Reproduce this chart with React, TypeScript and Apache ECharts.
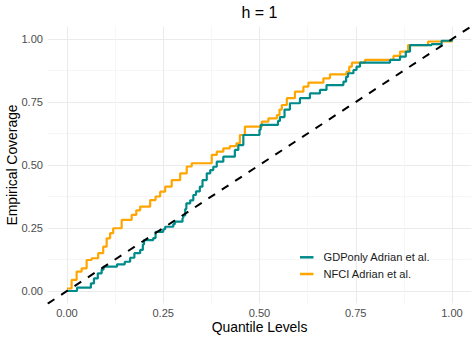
import React, { useEffect, useRef } from "react";
import * as echarts from "echarts";

const titleText = "h = 1";
const xTitle = "Quantile Levels";
const yTitle = "Empirical Coverage";
const majorTicks = [0, 0.25, 0.5, 0.75, 1];
const minorTicks = [0.125, 0.375, 0.625, 0.875];
const seriesNames = ["GDPonly Adrian et al.", "NFCI Adrian et al."];

const gdpX = [0, 0.026, 0.062, 0.07, 0.08, 0.09, 0.095, 0.13, 0.15, 0.164, 0.175, 0.19, 0.197, 0.2, 0.224, 0.23, 0.25, 0.255, 0.276, 0.28, 0.3, 0.302, 0.307, 0.31, 0.32, 0.328, 0.335, 0.345, 0.352, 0.363, 0.372, 0.38, 0.389, 0.406, 0.436, 0.445, 0.458, 0.5, 0.503, 0.548, 0.553, 0.565, 0.579, 0.605, 0.631, 0.657, 0.674, 0.718, 0.725, 0.73, 0.744, 0.752, 0.761, 0.839, 0.865, 0.88, 0.891, 0.947, 0.973, 1.0];
const gdpY = [0, 0.013, 0.03, 0.05, 0.07, 0.085, 0.097, 0.106, 0.116, 0.132, 0.15, 0.163, 0.185, 0.202, 0.21, 0.235, 0.245, 0.255, 0.265, 0.275, 0.29, 0.3, 0.325, 0.348, 0.36, 0.381, 0.395, 0.414, 0.44, 0.467, 0.48, 0.493, 0.513, 0.533, 0.56, 0.579, 0.619, 0.64, 0.659, 0.675, 0.69, 0.72, 0.745, 0.765, 0.784, 0.798, 0.817, 0.831, 0.85, 0.864, 0.877, 0.89, 0.906, 0.917, 0.93, 0.95, 0.976, 0.98, 0.993, 1.0];

const nfciX = [0, 0.012, 0.025, 0.038, 0.051, 0.064, 0.081, 0.094, 0.103, 0.112, 0.12, 0.142, 0.168, 0.18, 0.19, 0.216, 0.23, 0.242, 0.255, 0.272, 0.294, 0.311, 0.324, 0.376, 0.389, 0.406, 0.423, 0.44, 0.449, 0.462, 0.506, 0.523, 0.545, 0.552, 0.558, 0.571, 0.592, 0.614, 0.627, 0.666, 0.683, 0.726, 0.733, 0.74, 0.774, 0.848, 0.865, 0.886, 0.938, 1.0];
const nfciY = [0.01, 0.044, 0.077, 0.09, 0.123, 0.13, 0.15, 0.176, 0.209, 0.23, 0.249, 0.282, 0.302, 0.32, 0.335, 0.361, 0.375, 0.394, 0.414, 0.44, 0.467, 0.494, 0.507, 0.54, 0.553, 0.566, 0.575, 0.586, 0.619, 0.652, 0.672, 0.685, 0.698, 0.72, 0.738, 0.765, 0.791, 0.811, 0.827, 0.844, 0.86, 0.87, 0.89, 0.906, 0.917, 0.933, 0.95, 0.976, 0.99, 1.0];

const diagX = [-0.05, 1.05];
const diagY = [-0.05, 1.05];

const FONT = "'Liberation Sans', Arial, Helvetica, sans-serif";

export default function App() {
  const ref = useRef<HTMLDivElement>(null);
  useEffect(() => {
    document.body.style.margin = "0";
    if (!ref.current) return;
    const chart = echarts.init(ref.current, undefined, { renderer: "svg" });
    const zip = (xs: number[], ys: number[]) => xs.map((x, i) => [x, ys[i]]);
    const axisBase = {
      type: "value" as const,
      min: -0.05,
      max: 1.05,
      axisLine: { show: false },
    };
    chart.setOption({
      animation: false,
      textStyle: { fontFamily: FONT },
      title: {
        text: titleText,
        left: 259.5,
        textAlign: "center",
        top: 4,
        padding: 0,
        textStyle: { fontFamily: FONT, fontSize: 16, fontWeight: "normal", color: "#000" },
      },
      grid: { left: 47.75, right: 4.75, top: 26.4, bottom: 36.4, containLabel: false, outerBoundsMode: "none" },
      legend: {
        data: seriesNames,
        orient: "vertical",
        left: 300,
        top: 250.8,
        padding: 0,
        icon: "rect",
        itemWidth: 13.5,
        itemHeight: 2.5,
        itemGap: 3.7,
        textStyle: { fontFamily: FONT, fontSize: 11.1, color: "#1a1a1a", lineHeight: 13, padding: [0, 0, 0, 5] },
      },
      xAxis: [
        {
          ...axisBase,
          name: xTitle,
          nameLocation: "middle",
          nameGap: 16,
          nameMoveOverlap: false,
          nameTextStyle: { fontFamily: FONT, fontSize: 13.9, color: "#000" },
          axisTick: { show: false, customValues: majorTicks },
          axisLabel: {
            customValues: majorTicks,
            formatter: (v: number) => v.toFixed(2),
            color: "#4D4D4D",
            fontSize: 11.1,
            fontFamily: FONT,
            margin: 3.6,
          },
          splitLine: { show: true, lineStyle: { color: "#EBEBEB", width: 1.1 } },
        },
        {
          ...axisBase,
          position: "bottom",
          axisTick: { show: false, customValues: minorTicks },
          axisLabel: { show: false, customValues: minorTicks },
          splitLine: { show: true, lineStyle: { color: "#F4F4F4", width: 0.8 } },
        },
      ],
      yAxis: [
        {
          ...axisBase,
          name: yTitle,
          nameLocation: "middle",
          nameGap: 29,
          nameMoveOverlap: false,
          nameTextStyle: { fontFamily: FONT, fontSize: 13.9, color: "#000" },
          axisTick: { show: false, customValues: majorTicks },
          axisLabel: {
            customValues: majorTicks,
            formatter: (v: number) => v.toFixed(2),
            color: "#4D4D4D",
            fontSize: 11.1,
            fontFamily: FONT,
            margin: 4.75,
          },
          splitLine: { show: true, lineStyle: { color: "#EBEBEB", width: 1.1 } },
        },
        {
          ...axisBase,
          position: "left",
          axisTick: { show: false, customValues: minorTicks },
          axisLabel: { show: false, customValues: minorTicks },
          splitLine: { show: true, lineStyle: { color: "#F4F4F4", width: 0.8 } },
        },
      ],
      series: [
        {
          name: seriesNames[1],
          type: "line",
          step: "end",
          data: zip(nfciX, nfciY),
          showSymbol: false,
          symbol: "none",
          color: "#FFA500",
          lineStyle: { color: "#FFA500", width: 2.2 },
          z: 2,
        },
        {
          name: seriesNames[0],
          type: "line",
          step: "end",
          data: zip(gdpX, gdpY),
          showSymbol: false,
          symbol: "none",
          color: "#008B8B",
          lineStyle: { color: "#008B8B", width: 2.2 },
          z: 3,
        },
        {
          name: "diag",
          type: "line",
          data: zip(diagX, diagY),
          showSymbol: false,
          symbol: "none",
          silent: true,
          color: "#000",
          lineStyle: { color: "#000", width: 2, type: [8, 8] },
          z: 4,
        },
      ],
    });
    return () => chart.dispose();
  }, []);
  return <div ref={ref} style={{ width: 476, height: 340 }} />;
}
